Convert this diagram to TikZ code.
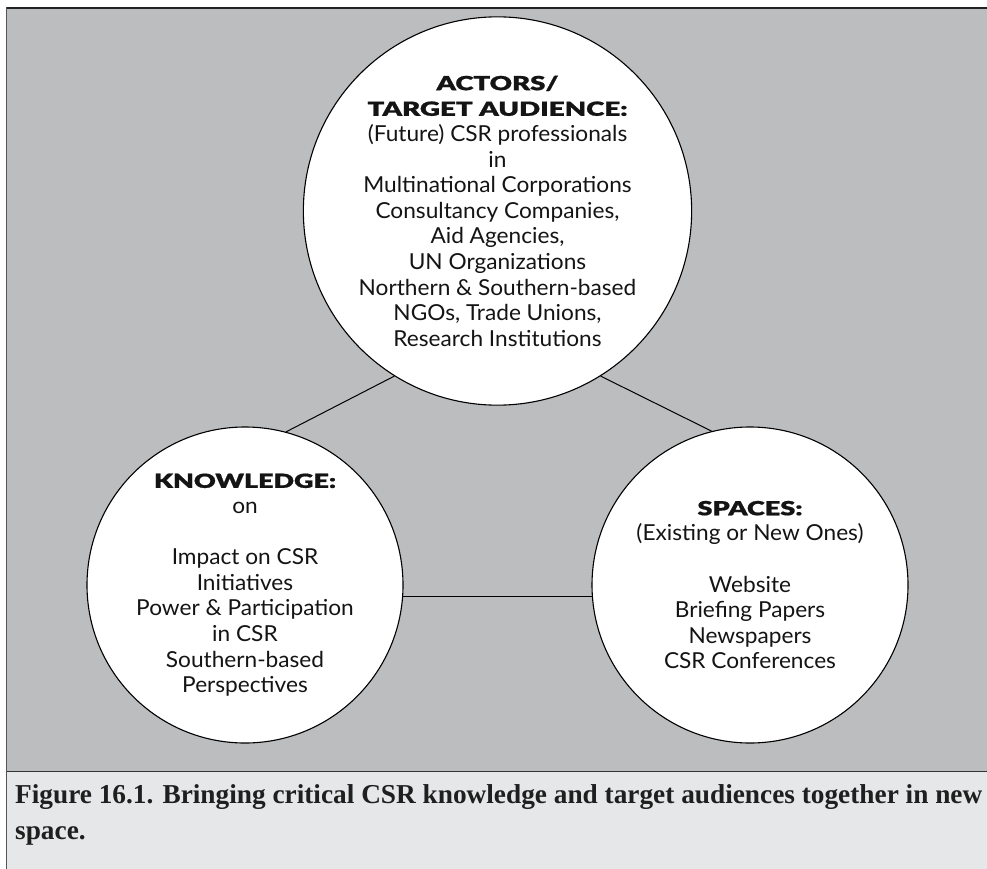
\documentclass[tikz,border=0pt]{standalone}
\usepackage{graphicx}
\usepackage{fontspec}
\setmainfont{Lato}[FakeStretch=1.03]
\newfontfamily\headfont{Lato Black}[FakeBold=0.8]
\newfontfamily\capfont{Liberation Serif}
\definecolor{panelgray}{HTML}{BCBDBF}
\definecolor{captiongray}{HTML}{E6E7E8}
\definecolor{framedark}{HTML}{222222}
\definecolor{frameside}{HTML}{555555}
% heavy heading set to a given width, height unchanged
\newcommand{\headline}[2]{\resizebox{#1}{\height}{\headfont\fontsize{19.5}{25.6}\selectfont #2}}
\begin{document}
\begin{tikzpicture}[x=1pt,y=-1pt,
  bubble/.style={circle, draw=black, line width=1.1pt, fill=white, inner sep=0pt,
    align=center, font={\fontsize{22}{25.6}\selectfont}, text=black!92},
  link/.style={draw=black, line width=1pt},
  captiontext/.style={anchor=base west, inner sep=0pt,
    font={\capfont\bfseries\fontsize{27.3}{36}\selectfont}, text=black!88}]
\useasboundingbox (0,0) rectangle (987,869);
% panel and caption strip
\fill[panelgray] (6.5,8) rectangle (987,771);
\fill[captiongray] (6.5,771) rectangle (987,869);
\draw[framedark, line width=1.5pt] (6.5,8) -- (987,8);
\draw[frameside, line width=1.5pt] (6.5,7.3) -- (6.5,869);
\draw[black!80, line width=1pt] (6.5,771) -- (987,771);

% the three bubbles
\node[bubble, minimum size=361pt] (actors) at (497.5,211) {%
  \headline{122pt}{ACTORS/}\\
  \headline{260pt}{TARGET AUDIENCE:}\\
  (Future) CSR professionals\\
  in\\
  Multinational Corporations\\
  Consultancy Companies,\\
  Aid Agencies,\\
  UN Organizations\\
  Northern \& Southern-based\\
  NGOs, Trade Unions,\\
  Research Institutions};
\node[bubble, minimum size=316pt] (knowledge) at (245,585) {%
  \headline{182pt}{KNOWLEDGE:}\\
  on\\[25.6pt]
  Impact on CSR\\
  Initiatives\\
  Power \& Participation\\
  in CSR\\
  Southern-based\\
  Perspectives};
\node[bubble, minimum size=316pt] (spaces) at (750,585) {%
  \headline{105pt}{SPACES:}\\
  (Existing or New Ones)\\[25.6pt]
  Website\\
  Briefing Papers\\
  Newspapers\\
  CSR Conferences};

% connectors
\draw[link] (knowledge.75.4) -- (actors.238.1);
\draw[link] (actors.302.1) -- (spaces.104.6);
\draw[link] (knowledge.-4.7) -- (spaces.184.7);

% caption
\node[captiontext] (cap1) at (15,803) {Figure 16.1. Bringing critical CSR knowledge and target audiences together in new};
\node[captiontext] (cap2) at (15,839) {space.};
\end{tikzpicture}
\end{document}
